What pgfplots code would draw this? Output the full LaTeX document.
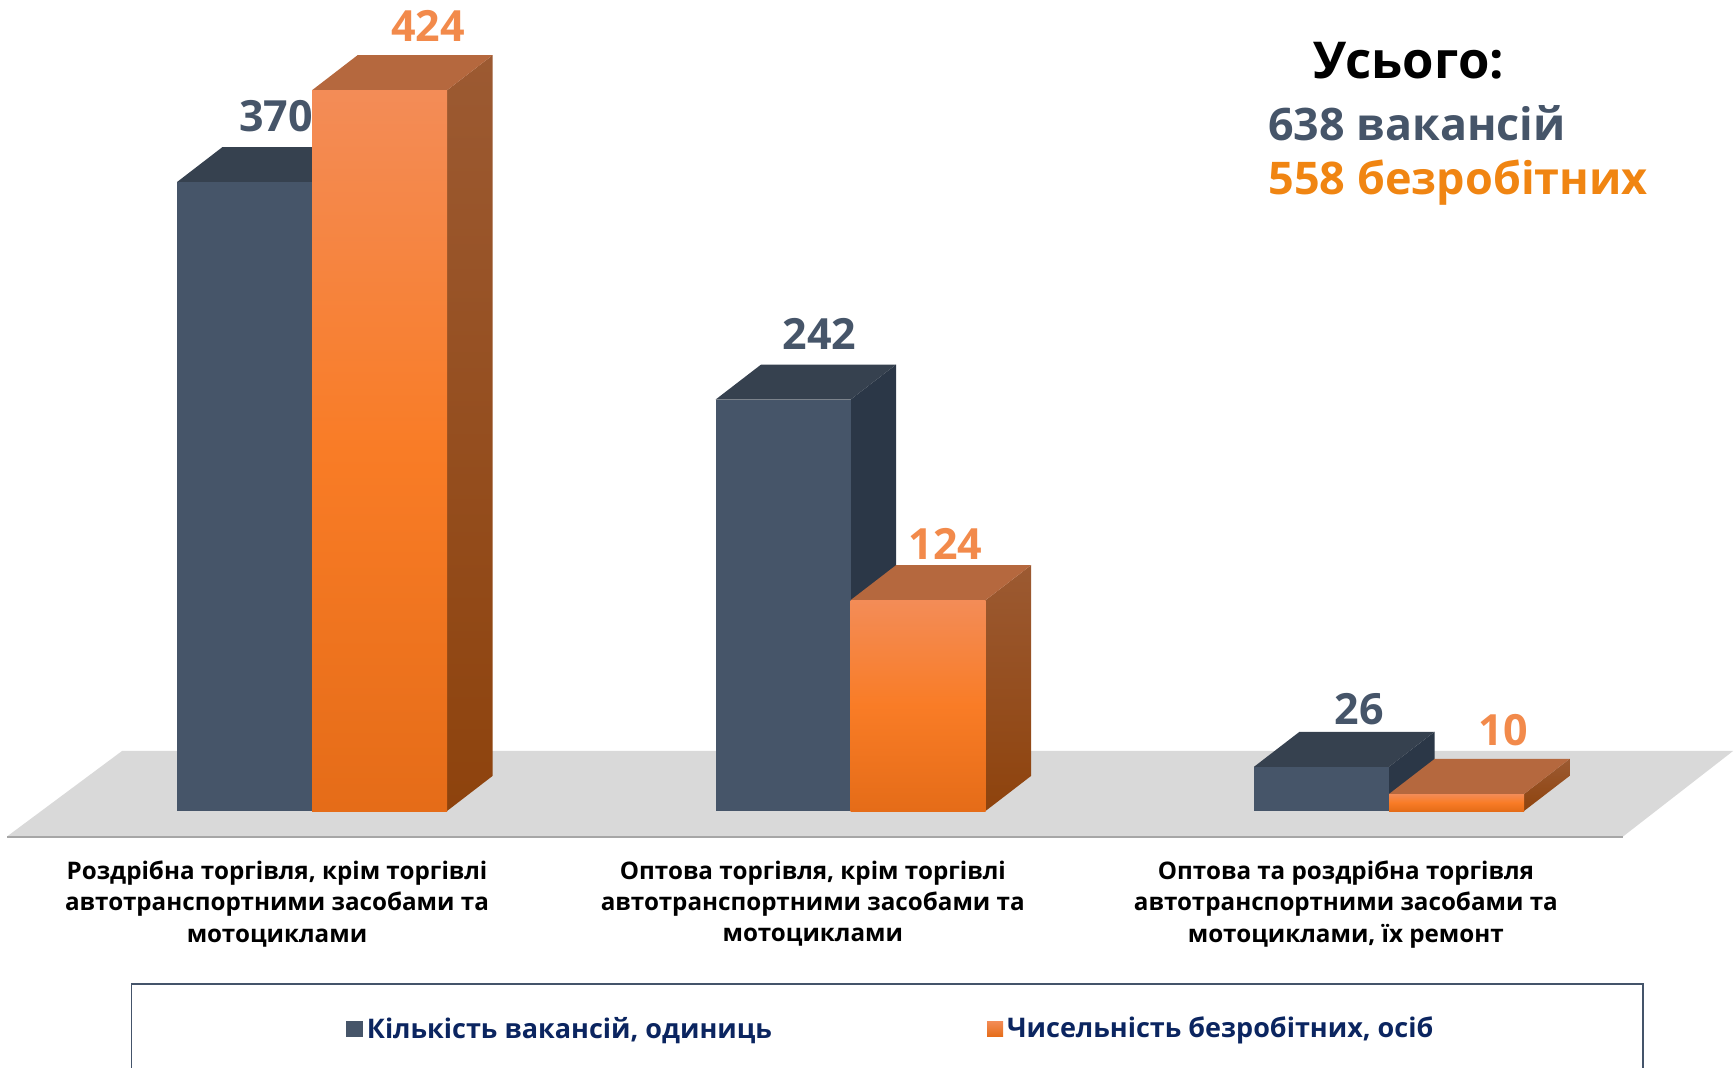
\documentclass[border=0pt]{standalone}
\usepackage{fontspec}
\setmainfont{Open Sans}
\usepackage{pgfplots}
\pgfplotsset{compat=1.18}
\definecolor{slatef}{HTML}{465569}
\definecolor{slatet}{HTML}{36414F}
\definecolor{slates}{HTML}{2B3747}
\definecolor{orat}{HTML}{B5683E}
\definecolor{orasT}{HTML}{9C5A32}
\definecolor{orasB}{HTML}{8E430D}
\definecolor{orlab}{HTML}{F28A4B}
\definecolor{ortot}{HTML}{F08512}
\definecolor{legtxt}{HTML}{0B2560}
\definecolor{framec}{HTML}{44546A}
\definecolor{floorc}{HTML}{D9D9D9}
\definecolor{floorl}{HTML}{A6A6A6}
\definecolor{or1}{HTML}{E56C18}
\definecolor{or2}{HTML}{F97C26}
\definecolor{or3}{HTML}{F38C57}
\pgfdeclareverticalshading{barorange}{100bp}{color(0bp)=(or1); color(25bp)=(or1); color(50bp)=(or2); color(75bp)=(or3); color(100bp)=(or3)}
% side and top faces of a bar: #1 left x, #2 right x, #3 value
\newcommand{\darkfaces}[3]{%
  \pgfmathsetmacro\xa{#1+0.0845}\pgfmathsetmacro\xb{#2+0.0845}\pgfmathsetmacro\vb{#3+20.6}%
  \addplot[forget plot,fill=slates,draw=none] coordinates {(#2,#3) (\xb,\vb) (\xb,20.6) (#2,0)};
  \addplot[forget plot,fill=slatet,draw=none] coordinates {(#1,#3) (#2,#3) (\xb,\vb) (\xa,\vb)};
}
\newcommand{\orangefaces}[3]{%
  \pgfmathsetmacro\xa{#1+0.0845}\pgfmathsetmacro\xb{#2+0.0845}\pgfmathsetmacro\vb{#3+20.6}%
  \addplot[forget plot,top color=orasT,bottom color=orasB,draw=none] coordinates {(#2,#3) (\xb,\vb) (\xb,20.6) (#2,0)};
  \addplot[forget plot,fill=orat,draw=none] coordinates {(#1,#3) (#2,#3) (\xb,\vb) (\xa,\vb)};
}
\begin{document}
\begin{tikzpicture}
\begin{axis}[
  scale only axis, width=867pt, height=533.5pt,
  xmin=-0.5794, xmax=2.6407, ymin=-150.6, ymax=477.1,
  axis line style={draw=none}, tick style={draw=none},
  ytick=\empty,
  xtick={-0.065,0.93,1.92},
  xticklabels={{Роздрібна торгівля, крім торгівлі\\автотранспортними засобами та\\мотоциклами},
               {Оптова торгівля, крім торгівлі\\автотранспортними засобами та\\мотоциклами},
               {Оптова та роздрібна торгівля\\автотранспортними засобами та\\мотоциклами, їх ремонт}},
  xticklabel style={align=center, font=\fontsize{12.1}{15.6}\selectfont\bfseries, text=black, anchor=north, yshift=106.5pt},
  legend columns=2,
  legend style={at={(axis cs:0.0625,-128.3)}, anchor=west, draw=none, fill=none, inner sep=0pt,
    font=\fontsize{13.5}{16}\selectfont\bfseries, text=legtxt,
    /tikz/every even column/.append style={column sep=105.5pt}},
  legend cell align=left,
]
% floor
\addplot[forget plot,fill=floorc,draw=none] coordinates {(-0.5664,-15) (-0.3528,35.3) (2.639,35.3) (2.4346,-15)};
\addplot[forget plot,draw=floorl,line width=1pt] coordinates {(-0.5664,-15) (2.4346,-15)};
% group 1
\darkfaces{-0.2507}{0}{370}
\addplot[forget plot,ybar,bar width=0.2507,bar shift=-0.12535,fill=slatef,draw=none] coordinates {(0,370)};
\orangefaces{0}{0.2507}{424}
\addplot[forget plot,ybar,bar width=0.2507,bar shift=0.12535,shade,shading=barorange,draw=none] coordinates {(0,424)};
% group 2
\darkfaces{0.7493}{1}{242}
\addplot[forget plot,ybar,bar width=0.2507,bar shift=-0.12535,fill=slatef,draw=none] coordinates {(1,242)};
\orangefaces{1}{1.2507}{124}
\addplot[forget plot,ybar,bar width=0.2507,bar shift=0.12535,shade,shading=barorange,draw=none] coordinates {(1,124)};
% group 3
\darkfaces{1.7493}{2}{26}
\addplot[forget plot,ybar,bar width=0.2507,bar shift=-0.12535,fill=slatef,draw=none] coordinates {(2,26)};
\orangefaces{2}{2.2507}{10}
\addplot[forget plot,ybar,bar width=0.2507,bar shift=0.12535,shade,shading=barorange,draw=none] coordinates {(2,10)};
% legend frame (runs off the bottom edge)
\addplot[forget plot,draw=framec,line width=0.8pt] coordinates {(-0.335,-170) (-0.335,-101.8) (2.472,-101.8) (2.472,-170)};
% legend
\addlegendimage{legend image code/.code={\fill[slatef] (0pt,-3.8pt) rectangle (8pt,4pt);}}
\addlegendentry{Кількість вакансій, одиниць}
\addlegendimage{legend image code/.code={\path[draw=none,top color=or3,bottom color=or1] (0pt,-3.8pt) rectangle (8pt,4pt);}}
\addlegendentry{Чисельність безробітних, осіб}
% value labels
\begin{scope}[every node/.style={font=\fontsize{21.5}{24}\selectfont\bfseries, inner sep=0pt}]
\node[text=slatef] at (axis cs:{(276-312)/538.5},{(811-116)/1.7}) {370};
\node[text=orlab] at (axis cs:{(428-312)/538.5},{(811-26)/1.7}) {424};
\node[text=slatef] at (axis cs:{(819.5-312)/538.5},{(811-334)/1.7}) {242};
\node[text=orlab] at (axis cs:{(945.5-312)/538.5},{(811-544)/1.7}) {124};
\node[text=slatef] at (axis cs:{(1359-312)/538.5},{(811-709)/1.7}) {26};
\node[text=orlab] at (axis cs:{(1503-312)/538.5},{(811-730)/1.7}) {10};
\end{scope}
% totals
\node[anchor=west,inner sep=0pt,font=\fontsize{25.4}{30}\selectfont\bfseries,text=black] at (axis cs:{(1313-312)/538.5},{(811-61)/1.7}) {Усього:};
\node[anchor=west,inner sep=0pt,font=\fontsize{22.4}{26}\selectfont\bfseries,text=slatef] at (axis cs:{(1268-312)/538.5},{(811-123)/1.7}) {638 вакансій};
\node[anchor=west,inner sep=0pt,font=\fontsize{22.5}{26}\selectfont\bfseries,text=ortot] at (axis cs:{(1268-312)/538.5},{(811-183)/1.7}) {558 безробітних};
\end{axis}
\end{tikzpicture}
\end{document}
